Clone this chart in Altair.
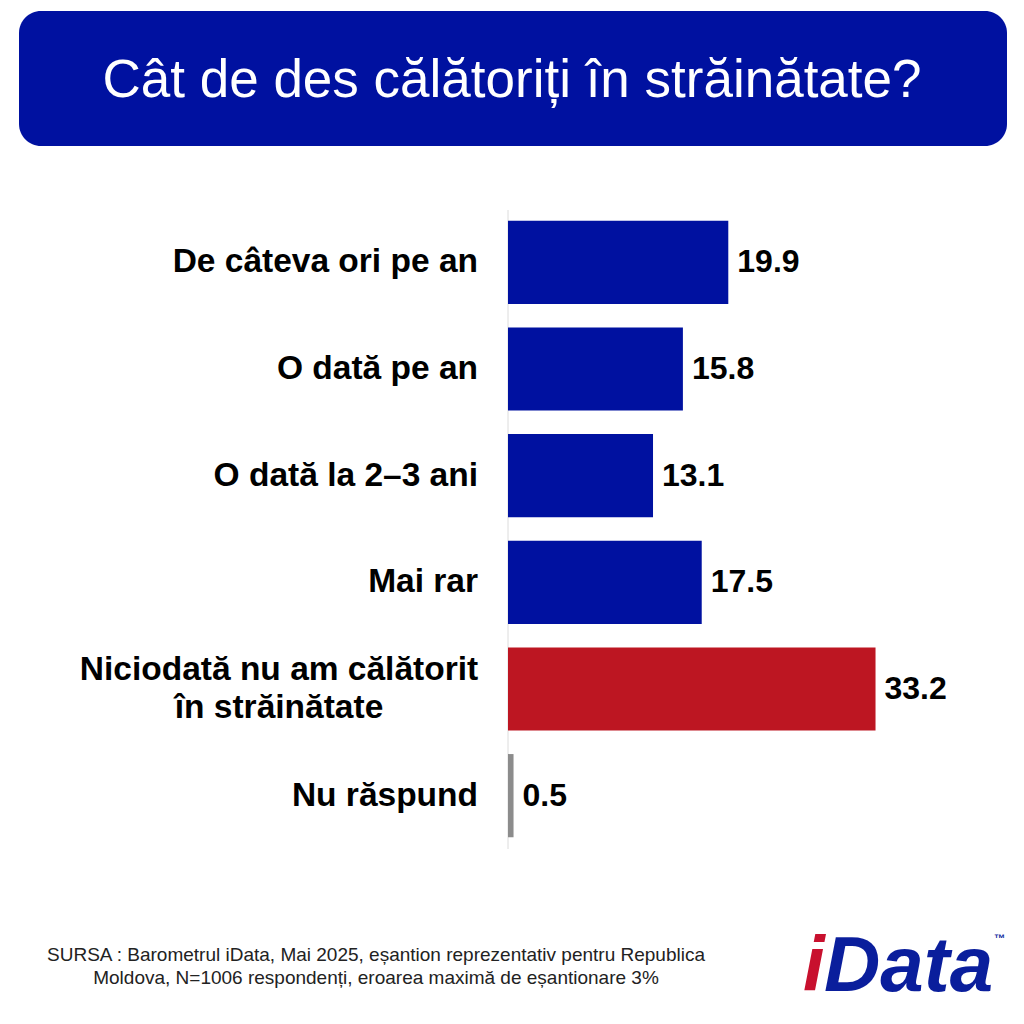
import altair as alt
import pandas as pd

# ---- data ----
categories = [
    "De câteva ori pe an",
    "O dată pe an",
    "O dată la 2–3 ani",
    "Mai rar",
    "Niciodată nu am călătorit\nîn străinătate",
    "Nu răspund",
]
values = [19.9, 15.8, 13.1, 17.5, 33.2, 0.5]
value_labels = ["19.9", "15.8", "13.1", "17.5", "33.2", "0.5"]

title_text = "Cât de des călătoriți în străinătate?"
footer_lines = [
    "SURSA : Barometrul iData, Mai 2025, eșantion reprezentativ pentru Republica",
    "Moldova, N=1006 respondenți, eroarea maximă de eșantionare 3%",
]
logo_parts = ["i", "Data", "™"]

# ---- styles ----
BLUE = "#0011A0"
RED = "#BD1622"
GRAY = "#8C8C8C"
bar_colors = [BLUE, BLUE, BLUE, BLUE, RED, GRAY]
FONT = "Liberation Sans, Arial, Helvetica, sans-serif"

df = pd.DataFrame({"cat": categories, "value": values, "label": value_labels})
one = alt.Data(values=[{"k": 1}])

xscale = alt.Scale(domain=[0, 40], range=[500, 942.8], nice=False, zero=True)
yscale = alt.Scale(domain=categories, range=[201, 841], paddingInner=0.22, paddingOuter=0.11)

base = alt.Chart(df)

bars = base.mark_bar().encode(
    x=alt.X("value:Q", scale=xscale, axis=None),
    y=alt.Y("cat:N", scale=yscale, axis=None),
    color=alt.Color("cat:N", scale=alt.Scale(domain=categories, range=bar_colors), legend=None),
)

axis_line = alt.Chart(one).mark_rule(color="#DCDCDC", strokeWidth=1).encode(
    x=alt.value(500),
    y=alt.value(202),
    y2=alt.value(841),
)

value_text = base.mark_text(
    align="left", baseline="middle", dx=9, font=FONT, fontSize=32, fontWeight="bold", color="#000000"
).encode(
    x=alt.X("value:Q", scale=xscale),
    y=alt.Y("cat:N", scale=yscale),
    text="label:N",
)

cat_text_single = base.transform_filter("indexof(datum.cat, '\\n') < 0").mark_text(
    align="right", baseline="middle", font=FONT, fontSize=33.5, fontWeight="bold", color="#000000"
).encode(
    x=alt.value(470),
    y=alt.Y("cat:N", scale=yscale),
    text="cat:N",
)

cat_text_multi = base.transform_filter("indexof(datum.cat, '\\n') >= 0").mark_text(
    align="center", baseline="middle", font=FONT, fontSize=33.5, fontWeight="bold", color="#000000",
    lineBreak="\n", lineHeight=38, dy=-19,
).encode(
    x=alt.value(271),
    y=alt.Y("cat:N", scale=yscale),
    text="cat:N",
)

title_box = alt.Chart(one).mark_rect(color=BLUE, cornerRadius=22).encode(
    x=alt.value(11), x2=alt.value(999), y=alt.value(3), y2=alt.value(138)
)
title = alt.Chart(one).mark_text(
    align="center", baseline="middle", font=FONT, fontSize=53, color="#FFFFFF"
).encode(x=alt.value(504), y=alt.value(73), text=alt.value(title_text))

footer1 = alt.Chart(one).mark_text(
    align="center", baseline="middle", font=FONT, fontSize=19, color="#222222"
).encode(x=alt.value(368), y=alt.value(947), text=alt.value(footer_lines[0]))
footer2 = alt.Chart(one).mark_text(
    align="center", baseline="middle", font=FONT, fontSize=19, color="#222222"
).encode(x=alt.value(368), y=alt.value(970), text=alt.value(footer_lines[1]))

logo_i = alt.Chart(one).mark_text(
    align="left", baseline="alphabetic", font=FONT, fontSize=78, fontWeight="bold",
    fontStyle="italic", color="#C8102E"
).encode(x=alt.value(795), y=alt.value(983), text=alt.value(logo_parts[0]))
logo_data = alt.Chart(one).mark_text(
    align="left", baseline="alphabetic", font=FONT, fontSize=78, fontWeight="bold",
    fontStyle="italic", color="#0A1E9C"
).encode(x=alt.value(816), y=alt.value(983), text=alt.value(logo_parts[1]))
logo_tm = alt.Chart(one).mark_text(
    align="left", baseline="alphabetic", font=FONT, fontSize=11, fontWeight="bold", color="#0A1E9C"
).encode(x=alt.value(986), y=alt.value(934), text=alt.value(logo_parts[2]))

chart = alt.layer(
    title_box, title, axis_line, bars, value_text, cat_text_single, cat_text_multi,
    footer1, footer2, logo_i, logo_data, logo_tm,
).properties(
    width=1008, height=1008, autosize=alt.AutoSizeParams(type="none"), padding=0,
    background="#FFFFFF",
).configure_view(stroke=None)

chart.save("out.html", embed_options={"renderer": "svg", "actions": False})
